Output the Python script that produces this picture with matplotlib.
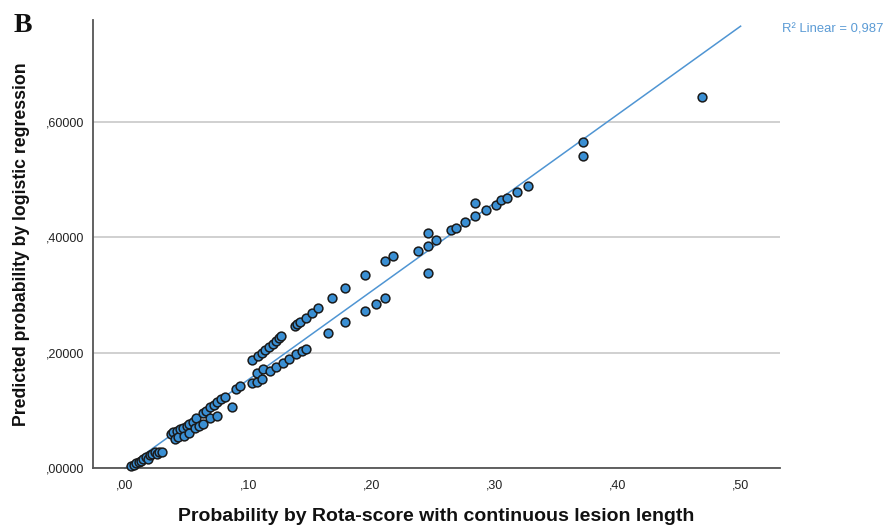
import matplotlib
matplotlib.use("Agg")
import matplotlib.pyplot as plt
import numpy as np

# Data (x: Rota-score probability, y: logistic regression probability)
x_low = [0.005, 0.007, 0.009, 0.011, 0.013, 0.015, 0.017, 0.019, 0.020, 0.022, 0.024, 0.026, 0.028, 0.030]
y_low = [0.003, 0.005, 0.008, 0.010, 0.013, 0.016, 0.019, 0.015, 0.022, 0.024, 0.028, 0.025, 0.027, 0.028]

x_mid = [0.037, 0.039, 0.041, 0.042, 0.043, 0.045, 0.047, 0.048, 0.050, 0.052, 0.052, 0.055, 0.057, 0.058,
         0.060, 0.063, 0.063, 0.066, 0.069, 0.069, 0.072, 0.075, 0.075, 0.078, 0.081, 0.087, 0.090, 0.093]
y_mid = [0.059, 0.062, 0.050, 0.064, 0.053, 0.067, 0.070, 0.056, 0.073, 0.060, 0.077, 0.080, 0.069, 0.086,
         0.072, 0.095, 0.076, 0.098, 0.105, 0.086, 0.110, 0.115, 0.091, 0.119, 0.124, 0.106, 0.137, 0.142]

x_upper = [0.103, 0.108, 0.111, 0.114, 0.117, 0.120, 0.123, 0.125, 0.127, 0.138, 0.140, 0.142, 0.147,
           0.152, 0.157, 0.168, 0.179, 0.195, 0.211, 0.218]
y_upper = [0.188, 0.195, 0.200, 0.205, 0.210, 0.215, 0.220, 0.225, 0.229, 0.246, 0.250, 0.253, 0.260,
           0.269, 0.277, 0.295, 0.312, 0.335, 0.359, 0.368]

x_lower = [0.103, 0.107, 0.107, 0.111, 0.112, 0.118, 0.123, 0.128, 0.133, 0.139, 0.144, 0.147, 0.165,
           0.179, 0.195, 0.204, 0.211]
y_lower = [0.147, 0.150, 0.165, 0.155, 0.171, 0.168, 0.175, 0.182, 0.189, 0.197, 0.203, 0.207, 0.234,
           0.253, 0.273, 0.285, 0.294]

x_high = [0.238, 0.246, 0.246, 0.246, 0.253, 0.265, 0.269, 0.276, 0.284, 0.284, 0.293, 0.301, 0.305,
          0.310, 0.318, 0.327, 0.372, 0.372, 0.469]
y_high = [0.376, 0.385, 0.408, 0.339, 0.396, 0.412, 0.417, 0.427, 0.437, 0.460, 0.447, 0.457, 0.464,
          0.468, 0.478, 0.489, 0.541, 0.565, 0.644]

x_ticks = [0.0, 0.1, 0.2, 0.3, 0.4, 0.5]
x_ticklabels = [",00", ",10", ",20", ",30", ",40", ",50"]
y_ticks = [0.0, 0.2, 0.4, 0.6]
y_ticklabels = [",00000", ",20000", ",40000", ",60000"]
r2_label = "R² Linear = 0,987"

x = np.array(x_low + x_mid + x_upper + x_lower + x_high)
y = np.array(y_low + y_mid + y_upper + y_lower + y_high)

plt.rcParams['font.family'] = ['Liberation Sans', 'DejaVu Sans']

fig = plt.figure(figsize=(8.85, 5.28), dpi=100)
ax = fig.add_axes([93/885, 1 - 468/528, (780-93)/885, (468-20)/528])

ax.set_xlim(-0.026, 0.532)
ax.set_ylim(0.0, 0.777)

for t in y_ticks:
    ax.axhline(t, color="#c8c8c8", lw=1.2, zorder=0)

slope, intercept = np.polyfit(x, y, 1)
xl = np.array([0.0, 0.5])
ax.plot(xl, intercept + slope * xl, color="#4f95d3", lw=1.1, zorder=2, clip_on=False)

ax.scatter(x, y, s=40, facecolor="#3a8fd3", edgecolor="#1a1a1a", linewidth=1.1, zorder=3, clip_on=False)

ax.set_xticks(x_ticks)
ax.set_xticklabels(x_ticklabels)
ax.set_yticks(y_ticks)
ax.set_yticklabels(y_ticklabels)
ax.tick_params(length=0, labelsize=9, colors="#222222")
ax.tick_params(axis='x', pad=8)
ax.tick_params(axis='y', pad=6)

for s in ["top", "right"]:
    ax.spines[s].set_visible(False)
for s in ["left", "bottom"]:
    ax.spines[s].set_color("#555555")
    ax.spines[s].set_linewidth(1.3)

ax.set_xlabel("Probability by Rota-score with continuous lesion length", fontsize=14,
              fontweight="bold", labelpad=12, color="#111111")
ax.set_ylabel("Predicted probability by logistic regression", fontsize=12.7,
              fontweight="bold", labelpad=12, color="#111111")

fig.text(782/885, 1 - 30/528, r2_label, fontsize=9.4, color="#5b9bd5", va="center", ha="left")
fig.text(14/885, 1 - 26/528, "B", fontsize=20, fontweight="bold", family="Liberation Serif",
         va="center", ha="left", color="#111111")

fig.savefig("out.png", dpi=100)
